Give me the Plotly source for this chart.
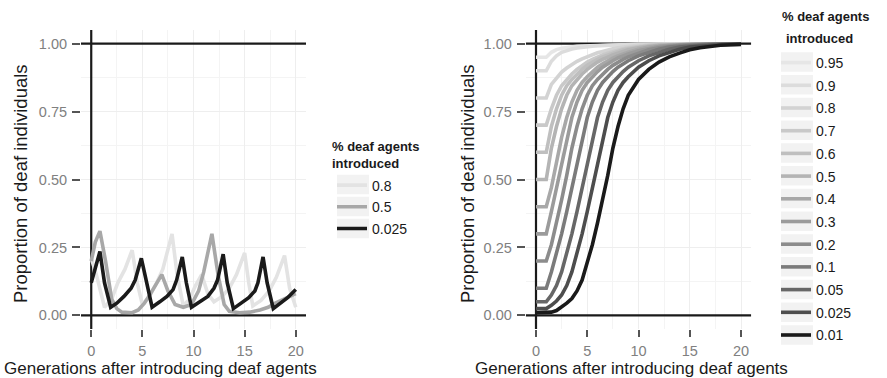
import plotly.graph_objects as go

FONT = "Liberation Sans, Arial, sans-serif"

# ---------------- Left panel data ----------------
left_labels = ["0.8", "0.5", "0.025"]
left_colors = ["#e3e3e3", "#a8a8a8", "#1a1a1a"]

x_08 = [0, 0.5, 1.3, 2.0, 2.6, 3.3, 4.0, 4.5, 5.0, 5.7, 6.4, 7.0, 7.9, 8.4, 9.0, 9.6,
        10.2, 10.8, 11.4, 12.0, 12.8, 13.5, 14.2, 15.0, 15.4, 15.8, 16.6, 17.4, 18.1,
        18.9, 19.4, 20.0]
y_08 = [0.21, 0.15, 0.03, 0.06, 0.12, 0.17, 0.24, 0.12, 0.04, 0.07, 0.12, 0.17, 0.30,
        0.15, 0.035, 0.06, 0.11, 0.15, 0.08, 0.05, 0.07, 0.10, 0.15, 0.23, 0.12, 0.035,
        0.055, 0.09, 0.14, 0.22, 0.10, 0.03]

x_05 = [0, 0.4, 0.85, 1.4, 2.0, 2.5, 3.0, 4.0, 4.6, 5.2, 5.8, 6.4, 6.9, 7.5, 8.2, 9.0,
        9.8, 10.5, 11.0, 11.8, 12.4, 13.0, 13.5, 14.5, 15.5, 16.5, 17.3, 18.0, 18.8,
        19.4, 20.0]
y_05 = [0.20, 0.27, 0.31, 0.20, 0.06, 0.025, 0.012, 0.01, 0.02, 0.045, 0.08, 0.12, 0.15,
        0.09, 0.04, 0.03, 0.04, 0.09, 0.16, 0.30, 0.15, 0.04, 0.015, 0.01, 0.012, 0.02,
        0.03, 0.045, 0.06, 0.07, 0.08]

x_0025 = [0, 0.4, 0.85, 1.3, 1.9, 2.5, 3.2, 3.9, 4.3, 4.9, 5.4, 5.95, 6.7, 7.4, 8.0,
          8.35, 8.9, 9.3, 9.8, 10.6, 11.4, 12.0, 12.35, 12.9, 13.3, 13.9, 14.7, 15.4,
          16.0, 16.3, 16.8, 17.2, 17.8, 18.5, 19.2, 20.0]
y_0025 = [0.12, 0.17, 0.235, 0.12, 0.03, 0.045, 0.07, 0.10, 0.13, 0.21, 0.12, 0.03, 0.05,
          0.07, 0.095, 0.13, 0.215, 0.12, 0.03, 0.05, 0.07, 0.10, 0.13, 0.225, 0.12,
          0.025, 0.045, 0.065, 0.09, 0.12, 0.215, 0.12, 0.025, 0.045, 0.065, 0.095]

left_x = [x_08, x_05, x_0025]
left_y = [y_08, y_05, y_0025]

# ---------------- Right panel data ----------------
right_labels = ["0.95", "0.9", "0.8", "0.7", "0.6", "0.5", "0.4", "0.3", "0.2", "0.1",
                "0.05", "0.025", "0.01"]
right_colors = ["#e6e6e6", "#dcdcdc", "#d3d3d3", "#c9c9c9", "#bfbfbf", "#b4b4b4",
                "#a8a8a8", "#9b9b9b", "#8c8c8c", "#7b7b7b", "#676767", "#4d4d4d",
                "#1a1a1a"]

gens = [0, 1, 1.5, 2, 2.5, 3, 3.5, 4, 4.5, 5, 5.5, 6, 6.5, 7, 7.5, 8, 8.5, 9, 10, 11,
        12, 13, 14, 15, 16, 17, 18, 19, 20]

p_095 = [0.95, 0.95, 0.968, 0.978, 0.983, 0.986, 0.988, 0.990, 0.991, 0.992, 0.993,
         0.994, 0.994, 0.995, 0.995, 0.996, 0.996, 0.996, 0.997, 0.997, 0.998, 0.998,
         0.999, 0.999, 0.999, 0.999, 0.999, 0.999, 0.999]
p_09 = [0.90, 0.90, 0.935, 0.955, 0.968, 0.975, 0.980, 0.984, 0.987, 0.989, 0.990,
        0.992, 0.993, 0.994, 0.994, 0.995, 0.995, 0.996, 0.997, 0.997, 0.998, 0.998,
        0.999, 0.999, 0.999, 0.999, 0.999, 0.999, 0.999]
p_08 = [0.80, 0.80, 0.850, 0.875, 0.895, 0.910, 0.924, 0.935, 0.944, 0.952, 0.959,
        0.966, 0.971, 0.977, 0.981, 0.985, 0.988, 0.990, 0.994, 0.996, 0.997, 0.998,
        0.998, 0.999, 0.999, 0.999, 0.999, 0.999, 0.999]
p_07 = [0.70, 0.70, 0.760, 0.810, 0.845, 0.868, 0.888, 0.905, 0.920, 0.932, 0.942,
        0.951, 0.958, 0.965, 0.971, 0.977, 0.981, 0.985, 0.990, 0.994, 0.996, 0.997,
        0.998, 0.998, 0.999, 0.999, 0.999, 0.999, 0.999]
p_06 = [0.60, 0.60, 0.695, 0.760, 0.810, 0.845, 0.868, 0.888, 0.905, 0.920, 0.932,
        0.942, 0.951, 0.958, 0.965, 0.971, 0.977, 0.981, 0.988, 0.992, 0.995, 0.996,
        0.997, 0.998, 0.998, 0.999, 0.999, 0.999, 0.999]
p_05 = [0.50, 0.50, 0.615, 0.695, 0.760, 0.810, 0.845, 0.868, 0.888, 0.905, 0.920,
        0.932, 0.942, 0.951, 0.958, 0.965, 0.971, 0.977, 0.985, 0.990, 0.994, 0.996,
        0.997, 0.998, 0.998, 0.999, 0.999, 0.999, 0.999]
p_04 = [0.40, 0.40, 0.470, 0.565, 0.655, 0.728, 0.785, 0.828, 0.857, 0.878, 0.897,
        0.913, 0.926, 0.937, 0.947, 0.955, 0.962, 0.968, 0.979, 0.987, 0.991, 0.994,
        0.996, 0.997, 0.998, 0.998, 0.999, 0.999, 0.999]
p_03 = [0.30, 0.30, 0.382, 0.470, 0.565, 0.655, 0.728, 0.785, 0.828, 0.857, 0.878,
        0.897, 0.913, 0.926, 0.937, 0.947, 0.955, 0.962, 0.974, 0.983, 0.989, 0.993,
        0.995, 0.997, 0.998, 0.998, 0.999, 0.999, 0.999]
p_02 = [0.20, 0.20, 0.260, 0.340, 0.425, 0.515, 0.615, 0.695, 0.760, 0.810, 0.845,
        0.868, 0.888, 0.905, 0.920, 0.932, 0.942, 0.951, 0.965, 0.977, 0.985, 0.990,
        0.994, 0.996, 0.997, 0.998, 0.998, 0.999, 0.999]
p_01 = [0.10, 0.10, 0.160, 0.225, 0.300, 0.382, 0.470, 0.565, 0.655, 0.728, 0.785,
        0.828, 0.857, 0.878, 0.897, 0.913, 0.926, 0.937, 0.955, 0.968, 0.979, 0.987,
        0.991, 0.994, 0.996, 0.997, 0.998, 0.998, 0.999]
p_005 = [0.05, 0.05, 0.075, 0.110, 0.160, 0.225, 0.300, 0.382, 0.470, 0.565, 0.655,
         0.728, 0.785, 0.828, 0.857, 0.878, 0.897, 0.913, 0.937, 0.955, 0.968, 0.979,
         0.987, 0.991, 0.994, 0.996, 0.997, 0.998, 0.998]
p_0025 = [0.025, 0.025, 0.037, 0.053, 0.075, 0.110, 0.160, 0.225, 0.300, 0.382, 0.470,
          0.565, 0.655, 0.728, 0.785, 0.828, 0.857, 0.878, 0.913, 0.937, 0.955, 0.968,
          0.979, 0.987, 0.991, 0.994, 0.996, 0.997, 0.998]
p_001 = [0.01, 0.010, 0.012, 0.018, 0.030, 0.045, 0.062, 0.090, 0.130, 0.190, 0.260,
         0.340, 0.425, 0.515, 0.615, 0.695, 0.760, 0.810, 0.868, 0.905, 0.932, 0.951,
         0.965, 0.977, 0.985, 0.990, 0.994, 0.996, 0.997]

right_y = [p_095, p_09, p_08, p_07, p_06, p_05, p_04, p_03, p_02, p_01, p_005, p_0025,
           p_001]

y_ticks = [0, 0.25, 0.5, 0.75, 1.0]
y_ticktext = ["0.00", "0.25", "0.50", "0.75", "1.00"]
x_ticks = [0, 5, 10, 15, 20]
x_range = [-1, 21]
y_range = [-0.05, 1.05]
ref_h = [0, 1]      # horizontal reference lines
ref_v = [0]         # vertical reference line

x_title = "Generations after introducing deaf agents"
y_title = "Proportion of deaf individuals"
legend_title_1 = "% deaf agents"
legend_title_2 = "introduced"

# ---------------- Figure ----------------
fig = go.Figure()
REF_LINE = dict(color="#1a1a1a", width=2.2)

for xa, ya in [("x", "y"), ("x2", "y2")]:
    for h in ref_h:
        fig.add_trace(go.Scatter(x=x_range, y=[h, h], mode="lines", line=REF_LINE,
                                 xaxis=xa, yaxis=ya, showlegend=False,
                                 hoverinfo="skip"))
    for v in ref_v:
        fig.add_trace(go.Scatter(x=[v, v], y=y_range, mode="lines", line=REF_LINE,
                                 xaxis=xa, yaxis=ya, showlegend=False,
                                 hoverinfo="skip"))

for i, lab in enumerate(left_labels):
    fig.add_trace(go.Scatter(
        x=left_x[i], y=left_y[i], mode="lines", name=lab,
        line=dict(color=left_colors[i], width=3.6),
        xaxis="x", yaxis="y", legend="legend", legendgroup="L" + lab,
        hoverinfo="skip"))

for i, lab in enumerate(right_labels):
    fig.add_trace(go.Scatter(
        x=gens, y=right_y[i], mode="lines", name=lab,
        line=dict(color=right_colors[i], width=3.6),
        xaxis="x2", yaxis="y2", legend="legend2", legendgroup="R" + lab,
        hoverinfo="skip"))

W, H = 887, 378
ydom = [(H - 329) / H, (H - 30) / H]
xdom1 = [81 / W, 306 / W]
xdom2 = [525.75 / W, 751.25 / W]

tickfont = dict(family=FONT, size=14.5, color="#808080")
common_x = dict(range=x_range, tickmode="array", tickvals=x_ticks, showgrid=True,
                gridcolor="#eeeeee", gridwidth=1, zeroline=False, showline=False,
                ticks="outside", ticklen=7, tickwidth=1.5, tickcolor="#555555",
                tickfont=tickfont, ticklabelstandoff=2,
                minor=dict(dtick=2.5, tick0=0, showgrid=True,
                           gridcolor="#f4f4f4", gridwidth=1))
common_y = dict(range=y_range, tickmode="array", tickvals=y_ticks,
                ticktext=y_ticktext, showgrid=True, gridcolor="#eeeeee", gridwidth=1,
                zeroline=False, showline=False, ticks="outside", ticklen=8,
                tickwidth=1.5, tickcolor="#555555", tickfont=tickfont,
                ticklabelstandoff=2,
                minor=dict(dtick=0.125, tick0=0, showgrid=True, gridcolor="#f4f4f4",
                           gridwidth=1))

# legend entry rows (pixel centres) used to place legends and key backgrounds
LEFT_ROWS = [184.5, 206.5, 228.5]
RIGHT_ROW0, RIGHT_STEP = 62, 22.75
RIGHT_ROWS = [RIGHT_ROW0 + RIGHT_STEP * i for i in range(len(right_labels))]
FIRST_ROW_OFFSET = 15   # legend top -> first row centre
LEFT_KEY_X, RIGHT_KEY_X = 337, 781
KEY_W, KEY_H = 32, 19.5

fig.update_layout(
    width=W, height=H,
    margin=dict(l=0, r=0, t=0, b=0),
    paper_bgcolor="white", plot_bgcolor="white",
    font=dict(family=FONT, color="#1a1a1a"),
    xaxis=dict(domain=xdom1, anchor="y", **common_x),
    yaxis=dict(domain=ydom, anchor="x", **common_y),
    xaxis2=dict(domain=xdom2, anchor="y2", **common_x),
    yaxis2=dict(domain=ydom, anchor="x2", **common_y),
    legend=dict(x=(LEFT_KEY_X - 5) / W, xanchor="left",
                y=(H - (LEFT_ROWS[0] - FIRST_ROW_OFFSET)) / H, yanchor="top",
                font=dict(size=14, family=FONT, color="#1a1a1a"),
                bgcolor="rgba(0,0,0,0)", tracegroupgap=0.5, itemwidth=30),
    legend2=dict(x=(RIGHT_KEY_X - 5) / W, xanchor="left",
                 y=(H - (RIGHT_ROWS[0] - FIRST_ROW_OFFSET)) / H, yanchor="top",
                 font=dict(size=14, family=FONT, color="#1a1a1a"),
                 bgcolor="rgba(0,0,0,0)", tracegroupgap=1.5, itemwidth=30),
    showlegend=True,
)

# grey key backgrounds
for rows, kx in [(LEFT_ROWS, LEFT_KEY_X), (RIGHT_ROWS, RIGHT_KEY_X)]:
    for r in rows:
        fig.add_shape(type="rect", xref="paper", yref="paper",
                      x0=kx / W, x1=(kx + KEY_W) / W, y0=(H - r - KEY_H / 2) / H,
                      y1=(H - r + KEY_H / 2) / H, fillcolor="#f2f2f2",
                      line=dict(width=0), layer="below")

# legend titles
fig.add_annotation(text="<b>" + legend_title_1 + "<br>" + legend_title_2 + "</b>",
                   x=330 / W, y=(H - 155) / H, xref="paper", yref="paper",
                   showarrow=False, xanchor="left", yanchor="middle", align="left",
                   font=dict(size=13, family=FONT, color="#1a1a1a"))
fig.add_annotation(text="<b>" + legend_title_1 + "</b>", x=780 / W, y=(H - 16) / H,
                   xref="paper", yref="paper", showarrow=False, xanchor="left",
                   yanchor="middle", font=dict(size=13, family=FONT, color="#1a1a1a"))
fig.add_annotation(text="<b>" + legend_title_2 + "</b>", x=783.5 / W, y=(H - 39) / H,
                   xref="paper", yref="paper", showarrow=False, xanchor="left",
                   yanchor="middle", font=dict(size=13, family=FONT, color="#1a1a1a"))

# axis titles
for cx, ty in [(160, 20), (631, 467)]:
    fig.add_annotation(text=x_title, x=cx / W, y=(H - 368) / H, xref="paper",
                       yref="paper", showarrow=False, xanchor="center",
                       yanchor="middle", font=dict(size=17, family=FONT,
                                                   color="#1a1a1a"))
    fig.add_annotation(text=y_title, x=ty / W, y=(H - 184) / H, xref="paper",
                       yref="paper", showarrow=False, textangle=-90,
                       xanchor="center", yanchor="middle",
                       font=dict(size=18.5, family=FONT, color="#1a1a1a"))

fig.write_html("out.html", config={"displayModeBar": False},
               post_script="document.body.style.margin='0';"
                           "document.body.style.padding='0';")
